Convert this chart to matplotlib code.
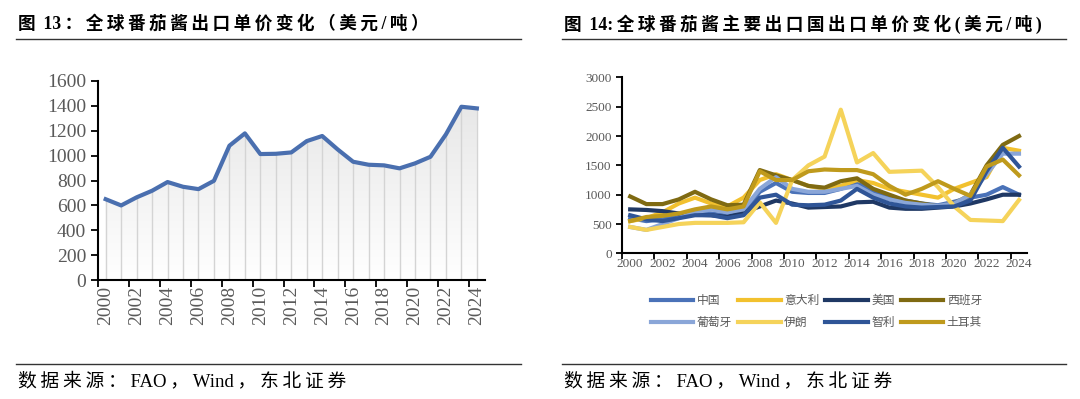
import numpy as np
import matplotlib
matplotlib.use("Agg")
import matplotlib.pyplot as plt
from matplotlib.lines import Line2D

years = list(range(2000, 2025))

# 图13 全球番茄酱出口单价（美元/吨）
world_price = [650, 600, 665, 718, 788, 750, 731, 798, 1080, 1179, 1013, 1015, 1026,
               1117, 1158, 1050, 951, 927, 922, 898, 938, 991, 1171, 1393, 1380]

# 图14 主要出口国出口单价（美元/吨）
countries = ["中国", "意大利", "美国", "西班牙", "葡萄牙", "伊朗", "智利", "土耳其"]
china = [600, 550, 580, 620, 700, 680, 640, 700, 1050, 1200, 1050, 1030, 1030,
         1100, 1200, 1050, 950, 900, 850, 820, 880, 950, 1000, 1130, 1000]
italy = [550, 600, 700, 850, 950, 850, 800, 950, 1250, 1350, 1250, 1150, 1100,
         1150, 1250, 1200, 1100, 1050, 1000, 950, 1100, 1200, 1300, 1800, 1750]
usa = [750, 740, 720, 680, 660, 650, 620, 700, 800, 900, 850, 780, 790,
       800, 870, 880, 780, 760, 760, 780, 800, 850, 920, 1000, 1000]
spain = [970, 840, 840, 920, 1050, 920, 820, 830, 1420, 1330, 1250, 1150, 1120,
         1230, 1280, 1100, 1000, 900, 850, 800, 850, 1000, 1500, 1850, 2000]
portugal = [450, 400, 500, 600, 700, 750, 700, 750, 1100, 1300, 1100, 1050, 1050,
            1100, 1150, 1000, 920, 860, 830, 810, 850, 1000, 1350, 1700, 1700]
iran = [450, 400, 450, 500, 520, 520, 520, 530, 870, 520, 1250, 1500, 1650,
        2450, 1550, 1710, 1390, 1400, 1410, 1130, 800, 570, 560, 550, 910]
chile = [650, 580, 550, 600, 650, 650, 600, 650, 950, 1000, 830, 820, 830,
         900, 1100, 950, 850, 800, 780, 790, 800, 900, 1400, 1800, 1480]
turkey = [550, 620, 640, 680, 750, 800, 750, 800, 1400, 1250, 1250, 1400, 1430,
          1420, 1420, 1350, 1150, 1000, 1100, 1230, 1100, 980, 1480, 1600, 1330]
series = [china, italy, usa, spain, portugal, iran, chile, turkey]
colors = ["#4a72b8", "#f2c12e", "#1f3864", "#7f6a12", "#8aa6d8", "#f5d35a", "#2f5597", "#bf9a1c"]

cjk = ["Liberation Serif", "Noto Sans CJK SC", "DejaVu Sans"]
gray = "#595959"


def spaced(s):
    # headings in the original have a little letter spacing between CJK glyphs
    out = s[0]
    for a, b in zip(s, s[1:]):
        if not (a.isascii() and b.isascii()):
            out += "\u2009"
        out += b
    return out


fig = plt.figure(figsize=(10.8, 3.99), dpi=100)

# headers / footers
for x0, title in [(0.017, "图 13：全球番茄酱出口单价变化（美元/吨）"),
                  (0.522, "图 14:全球番茄酱主要出口国出口单价变化(美元/吨)")]:
    fig.text(x0, 0.94, spaced(title), family=cjk, fontsize=12.7, fontweight="bold",
             va="center", ha="left")
    fig.add_artist(Line2D([x0 - 0.002, x0 + 0.465], [0.902, 0.902], color="#333333", lw=1,
                          transform=fig.transFigure))
    fig.add_artist(Line2D([x0 - 0.002, x0 + 0.465], [0.088, 0.088], color="#333333", lw=1,
                          transform=fig.transFigure))
    fig.text(x0, 0.045, spaced("数据来源：FAO，Wind，东北证券"), family=cjk, fontsize=13.5,
             va="center", ha="left")

x = np.arange(len(years))

# ---- left chart ----
ax1 = fig.add_axes([0.0907, 0.298, 0.358, 0.499])
poly = ax1.fill_between(x, world_price, 0, color="none")
grad = np.linspace(1, 0, 256).reshape(-1, 1)
img = ax1.imshow(grad, cmap=matplotlib.colors.LinearSegmentedColormap.from_list(
    "g", ["#ffffff", "#e4e4e4"]), extent=[-0.5, 24.5, 0, 1600], aspect="auto", zorder=1)
img.set_clip_path(poly.get_paths()[0], transform=ax1.transData)
ax1.vlines(x, 0, world_price, color="#d4d4d4", lw=1, zorder=2)
ax1.plot(x, world_price, color="#4a6faf", lw=3, zorder=3, solid_joinstyle="round")
ax1.set_xlim(-0.5, 24.5)
ax1.set_ylim(0, 1600)
ax1.set_yticks(range(0, 1601, 200))
ax1.set_xticks(np.arange(-0.5, 25, 2))
ax1.set_xticklabels([])
ax1.set_xticks(x[::2], minor=True)
ax1.set_xticklabels([str(y) for y in years[::2]], minor=True, rotation=90)
ax1.tick_params(axis="x", which="minor", length=0, pad=4)
ax1.tick_params(axis="both", which="major", length=5, width=1.3, direction="out")
for lab in ax1.get_yticklabels() + ax1.get_xticklabels(minor=True):
    lab.set_family("Liberation Serif")
    lab.set_fontsize(14)
    lab.set_color(gray)
for s in ["top", "right"]:
    ax1.spines[s].set_visible(False)
for s in ["left", "bottom"]:
    ax1.spines[s].set_linewidth(1.5)

# ---- right chart ----
ax2 = fig.add_axes([0.576, 0.365, 0.375, 0.441])
lines = {}
for name, vals, c in zip(countries, series, colors):
    lines[name], = ax2.plot(x, vals, color=c, lw=3, label=name, solid_joinstyle="round")
ax2.set_xlim(-0.5, 24.5)
ax2.set_ylim(0, 3000)
ax2.set_yticks(range(0, 3001, 500))
ax2.set_xticks(np.arange(-0.5, 25, 2))
ax2.set_xticklabels([])
ax2.set_xticks(x[::2], minor=True)
ax2.set_xticklabels([str(y) for y in years[::2]], minor=True)
ax2.tick_params(axis="x", which="minor", length=0, pad=3)
ax2.tick_params(axis="both", which="major", length=4, width=1.3, direction="out")
for lab in ax2.get_yticklabels() + ax2.get_xticklabels(minor=True):
    lab.set_family("Liberation Serif")
    lab.set_fontsize(9.5)
    lab.set_color(gray)
for s in ["top", "right"]:
    ax2.spines[s].set_visible(False)
for s in ["left", "bottom"]:
    ax2.spines[s].set_linewidth(1.5)

# legend is filled row by row in the original: reorder for column-major filling
order = ["中国", "葡萄牙", "意大利", "伊朗", "美国", "智利", "西班牙", "土耳其"]
leg = ax2.legend([lines[n] for n in order], order, loc="upper center",
                 bbox_to_anchor=(0.48, -0.17), ncol=4, frameon=False,
                 prop={"family": "Noto Sans CJK SC", "size": 8.5}, handlelength=3.6,
                 handletextpad=0.3, columnspacing=0.5, labelspacing=0.75)
for t in leg.get_texts():
    t.set_color(gray)

fig.savefig("out.png", dpi=100)
